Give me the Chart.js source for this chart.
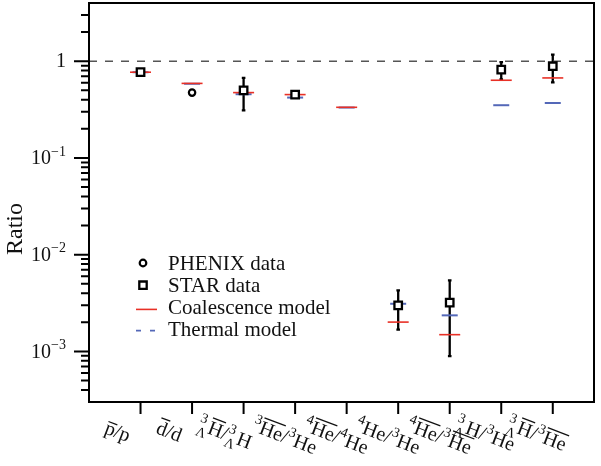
<!DOCTYPE html>
<html>
<head>
<meta charset="utf-8">
<script src="https://cdn.jsdelivr.net/npm/chart.js@4"></script>
<style>
  html, body { margin: 0; padding: 0; background: #fff; }
  #wrap { width: 601px; height: 466px; position: relative; }
</style>
<title>Ratio</title>
</head>
<body>
<div id="wrap"><canvas id="chart"></canvas></div>
<script>
// categories (plain text) and their typeset tick labels
const categories = ['p̄/p', 'd̄/d', '³ΛH̄/³ΛH', '³He̅/³He', '⁴He̅/⁴He', '⁴He/³He', '⁴He̅/³He̅', '³ΛH/³He', '³ΛH̄/³He̅'];
const tickLabels = [
  '~{p}/p',
  '~{d}/d',
  '^{3}_{Λ}~{H}/^{3}_{Λ}H',
  '^{3}~{He}/^{3}He',
  '^{4}~{He}/^{4}He',
  '^{4}He/^{3}He',
  '^{4}~{He}/^{3}~{He}',
  '^{3}_{Λ}H/^{3}He',
  '^{3}_{Λ}~{H}/^{3}~{He}'
];

// values
const phenix      = [null, 0.474, null, null, null, null, null, null, null];
const star        = [0.77, null, 0.50, 0.452, null, 0.00299, 0.00319, 0.82, 0.888];
const starLow     = [0.76, null, 0.311, 0.445, null, 0.00168, 0.000893, 0.65, 0.606];
const starHigh    = [0.78, null, 0.672, 0.46, null, 0.00427, 0.00542, 0.98, 1.17];
const coalescence = [0.77, 0.59, 0.474, 0.452, 0.334, 0.00201, 0.00149, 0.636, 0.672];
const thermal     = [0.77, 0.585, 0.456, 0.421, 0.332, 0.00311, 0.00236, 0.351, 0.37];

const seriesNames = ['PHENIX data', 'STAR data', 'Coalescence model', 'Thermal model'];
const yMajorTicks = [1, 0.1, 0.01, 0.001];
const yMajorLabels = ['1', '10^{−1}', '10^{−2}', '10^{−3}'];
const yTitle = 'Ratio';

const xMin = 0, xMax = 9.8, yMin = 3e-4, yMax = 4;
const RED = 'rgb(232,48,38)', BLUE = 'rgb(84,104,184)';
const SERIF = '"Liberation Serif", "Times New Roman", serif';

const pts = arr => arr.map((v, i) => v == null ? null : { x: i + 1, y: v }).filter(p => p);

// little markup: ^{..} prescript up, _{..} prescript down, ~{..} overline
function drawMarkup(ctx, src, size) {
  const re = /\^\{([^}]*)\}(?:_\{([^}]*)\})?|~\{([^}]*)\}|./gu;
  const big = size + 'px ' + SERIF, small = Math.round(size * 0.68) + 'px ' + SERIF;
  const toks = [...src.matchAll(re)];
  // a leading prescript hangs to the left of the anchor
  let x = 0;
  if (toks.length && toks[0][1] !== undefined) {
    ctx.font = small;
    x = -Math.max(ctx.measureText(toks[0][1]).width, toks[0][2] ? ctx.measureText(toks[0][2]).width : 0) - 0.5;
  }
  for (const m of toks) {
    if (m[1] !== undefined) {
      ctx.font = small;
      const w1 = ctx.measureText(m[1]).width;
      ctx.fillText(m[1], x, -size * 0.42);
      let w2 = 0;
      if (m[2] !== undefined) {
        w2 = ctx.measureText(m[2]).width;
        ctx.fillText(m[2], x, size * 0.3);
      }
      x += Math.max(w1, w2) + 0.5;
    } else if (m[3] !== undefined) {
      ctx.font = big;
      const mt = ctx.measureText(m[3]);
      ctx.fillText(m[3], x, 0);
      const top = -mt.actualBoundingBoxAscent - 2.5;
      ctx.beginPath();
      ctx.lineWidth = 1.3;
      ctx.moveTo(x + 0.5, top);
      ctx.lineTo(x + mt.width, top);
      ctx.stroke();
      x += mt.width;
    } else {
      ctx.font = big;
      ctx.fillText(m[0], x, 0);
      x += ctx.measureText(m[0]).width;
    }
  }
}

const decor = {
  id: 'decor',
  beforeDatasetsDraw(chart) {
    const { ctx, scales: { x, y } } = chart;
    ctx.save();
    ctx.strokeStyle = '#000';
    ctx.lineWidth = 2.3;
    star.forEach((v, i) => {
      if (v == null) return;
      const px = x.getPixelForValue(i + 1);
      const y1 = y.getPixelForValue(starLow[i]), y2 = y.getPixelForValue(starHigh[i]);
      ctx.beginPath();
      ctx.moveTo(px, y1); ctx.lineTo(px, y2);
      ctx.moveTo(px - 1.8, y1); ctx.lineTo(px + 1.8, y1);
      ctx.moveTo(px - 1.8, y2); ctx.lineTo(px + 1.8, y2);
      ctx.stroke();
    });
    ctx.restore();
  },
  afterDraw(chart) {
    const { ctx, chartArea: a, scales: { x, y } } = chart;
    ctx.save();
    ctx.strokeStyle = '#000';
    ctx.fillStyle = '#111';
    // frame
    ctx.lineWidth = 2;
    ctx.strokeRect(a.left, a.top, a.right - a.left, a.bottom - a.top);
    // y ticks
    ctx.beginPath();
    for (let d = -5; d <= 1; d++) {
      for (let k = 1; k <= 9; k++) {
        const v = k * Math.pow(10, d);
        if (v <= yMin * 1.001 || v >= yMax * 0.999) continue;
        const py = y.getPixelForValue(v);
        ctx.moveTo(a.left - (k === 1 ? 15 : 8), py);
        ctx.lineTo(a.left, py);
      }
    }
    // x ticks
    categories.forEach((c, i) => {
      const px = x.getPixelForValue(i + 1);
      ctx.moveTo(px, a.bottom);
      ctx.lineTo(px, a.bottom + 12);
    });
    ctx.stroke();

    // y tick labels
    ctx.textBaseline = 'middle';
    yMajorTicks.forEach((v, i) => {
      const py = y.getPixelForValue(v);
      const [main, sup] = yMajorLabels[i].replace('}', '').split('^{');
      const right = a.left - 23;
      ctx.font = '14px ' + SERIF;
      const ws = sup ? ctx.measureText(sup).width : 0;
      ctx.font = '20px ' + SERIF;
      const wm = ctx.measureText(main).width;
      ctx.textAlign = 'left';
      ctx.fillText(main, right - ws - wm, py + 1);
      if (sup) {
        ctx.font = '14px ' + SERIF;
        ctx.fillText(sup, right - ws, py - 6);
      }
    });

    // y title
    ctx.save();
    ctx.translate(16, 229);
    ctx.rotate(-Math.PI / 2);
    ctx.textAlign = 'center';
    ctx.font = '24px ' + SERIF;
    ctx.fillText(yTitle, 0, 0);
    ctx.restore();

    // x tick labels, slanted
    ctx.textBaseline = 'alphabetic';
    ctx.textAlign = 'left';
    ctx.lineCap = 'butt';
    tickLabels.forEach((t, i) => {
      const px = x.getPixelForValue(i + 1);
      ctx.save();
      ctx.translate(px - 37, a.bottom + 31);
      ctx.rotate(21 * Math.PI / 180);
      ctx.strokeStyle = '#111';
      drawMarkup(ctx, t, 20);
      ctx.restore();
    });

    // legend
    const lx = 143, ly = 263, step = 22.2;
    ctx.font = '21px ' + SERIF;
    ctx.textBaseline = 'middle';
    seriesNames.forEach((name, i) => {
      const cy = ly + i * step;
      ctx.fillStyle = '#111';
      ctx.fillText(name, 168, cy + 1);
      ctx.beginPath();
      if (i === 0) {
        ctx.lineWidth = 2.2; ctx.strokeStyle = '#000'; ctx.fillStyle = '#fff';
        ctx.arc(lx, cy, 3.3, 0, Math.PI * 2); ctx.fill(); ctx.stroke();
      } else if (i === 1) {
        ctx.lineWidth = 2.3; ctx.strokeStyle = '#000'; ctx.fillStyle = '#fff';
        ctx.rect(lx - 3.7, cy - 3.7, 7.4, 7.4); ctx.fill(); ctx.stroke();
      } else if (i === 2) {
        ctx.lineWidth = 1.6; ctx.strokeStyle = RED;
        ctx.moveTo(136, cy + 2); ctx.lineTo(157, cy + 2); ctx.stroke();
      } else {
        ctx.lineWidth = 1.8; ctx.strokeStyle = BLUE;
        ctx.setLineDash([5, 9]);
        ctx.moveTo(136, cy + 1); ctx.lineTo(157, cy + 1); ctx.stroke();
        ctx.setLineDash([]);
      }
    });
    ctx.restore();
  }
};

new Chart(document.getElementById('chart'), {
  type: 'scatter',
  data: {
    datasets: [
      { label: seriesNames[0], data: pts(phenix), pointStyle: 'circle', pointRadius: 3.2,
        borderWidth: 2.2, borderColor: '#000', backgroundColor: '#fff' },
      { label: seriesNames[1], data: pts(star), pointStyle: 'rect', pointRadius: 5.3,
        borderWidth: 2.3, borderColor: '#000', backgroundColor: '#fff' },
      { label: seriesNames[2], data: pts(coalescence), pointStyle: 'line', pointRadius: 10.5,
        borderWidth: 1.6, borderColor: RED, backgroundColor: RED },
      { label: seriesNames[3], data: pts(thermal), pointStyle: 'line', pointRadius: 8,
        borderWidth: 2, borderColor: BLUE, backgroundColor: BLUE },
      { label: 'unity', type: 'line', data: [{ x: xMin, y: 1 }, { x: xMax, y: 1 }],
        borderColor: '#555', borderWidth: 1.6, borderDash: [8, 8], pointRadius: 0, showLine: true }
    ]
  },
  options: {
    responsive: true,
    maintainAspectRatio: false,
    animation: false,
    events: [],
    layout: { autoPadding: false, padding: { left: 89, top: 3, right: 7, bottom: 64 } },
    plugins: { legend: { display: false }, tooltip: { enabled: false } },
    scales: {
      x: { type: 'linear', min: xMin, max: xMax, display: false },
      y: { type: 'logarithmic', min: yMin, max: yMax, display: false }
    }
  },
  plugins: [decor]
});
</script>
</body>
</html>
